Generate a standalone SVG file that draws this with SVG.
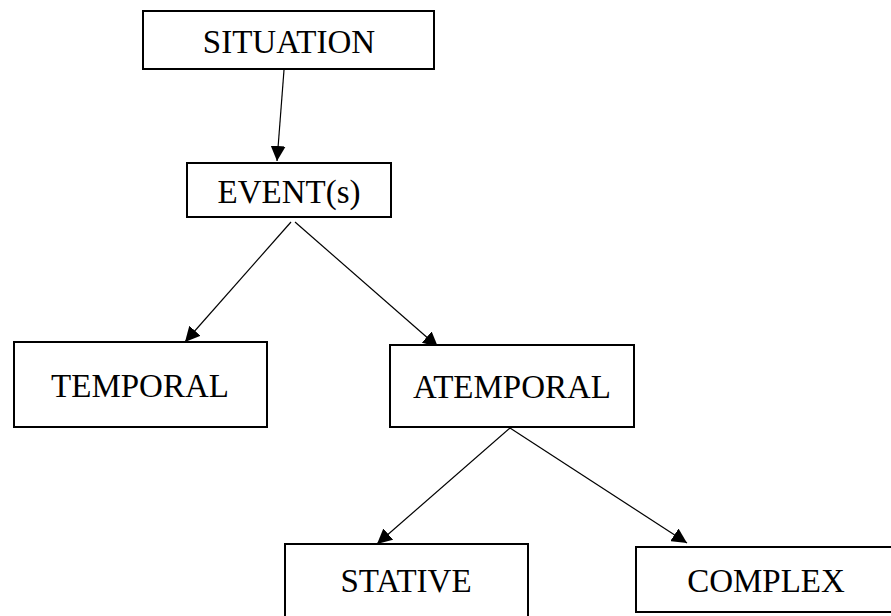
<svg xmlns="http://www.w3.org/2000/svg" width="891" height="616" viewBox="0 0 891 616">
<style>
.box{fill:#fff;stroke:#000;stroke-width:2}
.lbl{font-family:"Liberation Serif","Times New Roman",serif;font-size:33px;fill:#000;text-anchor:middle}
.edge{stroke:#000;stroke-width:1.2;fill:none;marker-end:url(#arr)}
</style>
<defs>
<marker id="arr" viewBox="0 0 15 15" refX="15" refY="7.5" markerWidth="15" markerHeight="15" markerUnits="userSpaceOnUse" orient="auto">
<path d="M0,0 L15,7.5 L0,15 Z" fill="#000"/>
</marker>
</defs>
<rect x="0" y="0" width="891" height="616" fill="#fff"/>
<g id="connectors">
<line class="edge" x1="284" y1="70" x2="277" y2="161"/>
<line class="edge" x1="291" y1="222" x2="185" y2="342"/>
<line class="edge" x1="295" y1="222" x2="438" y2="347"/>
<line class="edge" x1="510" y1="428" x2="377" y2="544"/>
<line class="edge" x1="510" y1="428" x2="687" y2="543"/>
</g>
<g id="situation"><rect class="box" x="143" y="11" width="291" height="58"/><text class="lbl" x="289" y="53">SITUATION</text></g>
<g id="events"><rect class="box" x="187" y="163" width="204" height="54"/><text class="lbl" x="289" y="203">EVENT(s)</text></g>
<g id="temporal"><rect class="box" x="14" y="342" width="253" height="85"/><text class="lbl" x="140" y="397">TEMPORAL</text></g>
<g id="atemporal"><rect class="box" x="390" y="345" width="244" height="82"/><text class="lbl" x="512" y="398">ATEMPORAL</text></g>
<g id="stative"><rect class="box" x="285" y="544" width="243" height="90"/><text class="lbl" x="406" y="592">STATIVE</text></g>
<g id="complex"><rect class="box" x="636" y="547" width="270" height="65"/><text class="lbl" x="766" y="592">COMPLEX</text></g>
</svg>
